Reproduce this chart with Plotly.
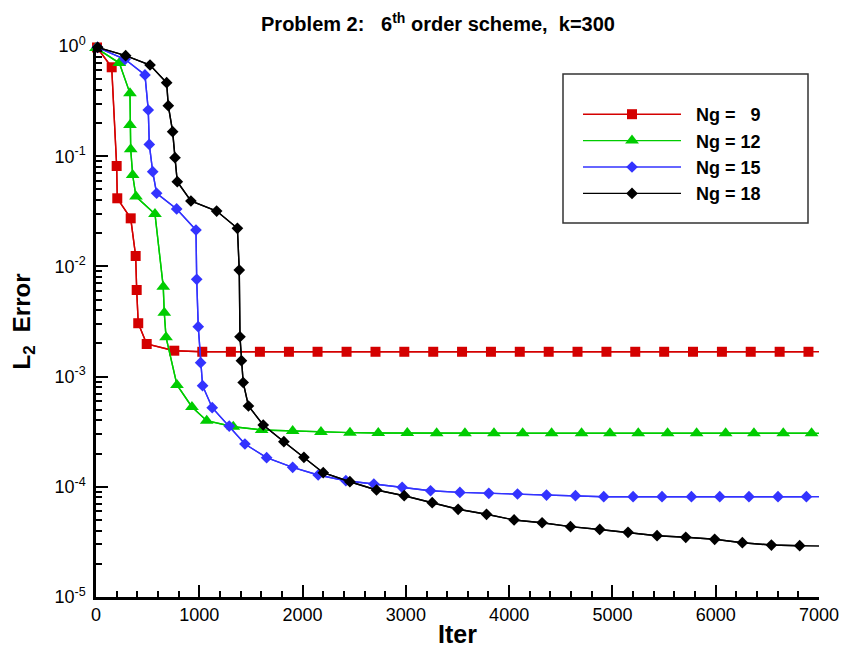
import plotly.graph_objects as go

# ---------------- data ----------------
iter_ng9 = [10, 152, 200, 206, 336, 384, 394, 409, 491, 758, 1029, 1306, 1587, 1868, 2145, 2426,
            2706, 2985, 3265, 3544, 3824, 4103, 4383, 4662, 4942, 5221, 5501, 5780, 6060, 6339, 6619, 6898]
err_ng9 = [0.97, 0.641, 0.0815, 0.0415, 0.0273, 0.01243, 0.00611, 0.00305, 0.001977, 0.001718,
           0.00168, 0.00168, 0.00168, 0.00168, 0.00168, 0.00168, 0.00168, 0.00168, 0.00168, 0.00168,
           0.00168, 0.00168, 0.00168, 0.00168, 0.00168, 0.00168, 0.00168, 0.00168, 0.00168, 0.00168,
           0.00168, 0.00168]
end_ng9 = 0.00168

iter_ng12 = [0, 226, 329, 329, 336, 355, 387, 571, 651, 661, 678, 784, 929, 1072, 1329, 1604, 1904,
             2178, 2459, 2733, 3014, 3298, 3572, 3853, 4131, 4411, 4701, 4976, 5250, 5534, 5815, 6096,
             6370, 6654, 6928]
err_ng12 = [0.96, 0.70, 0.372, 0.192, 0.1155, 0.0675, 0.043, 0.0299, 0.00655, 0.0038, 0.00228,
            0.00084, 0.00053, 0.000398, 0.000351, 0.000328, 0.000321, 0.000315, 0.000310, 0.000308,
            0.000307, 0.000306, 0.000306, 0.000306, 0.000306, 0.000306, 0.000306, 0.000306, 0.000306,
            0.000306, 0.000306, 0.000306, 0.000306, 0.000306, 0.000306]
end_ng12 = 0.000306

iter_ng15 = [13, 281, 474, 506, 516, 549, 587, 781, 968, 975, 990, 1013, 1032, 1125, 1290, 1442, 1652,
             1904, 2151, 2419, 2690, 2964, 3239, 3523, 3803, 4081, 4362, 4642, 4916, 5200, 5480, 5765,
             6039, 6322, 6603, 6878]
err_ng15 = [0.973, 0.757, 0.546, 0.2625, 0.128, 0.0723, 0.0461, 0.0332, 0.0214, 0.00764, 0.00284,
            0.001337, 0.000827, 0.000522, 0.000356, 0.0002445, 0.0001837, 0.0001503, 0.0001279,
            0.0001136, 0.000106, 9.89e-5, 9.21e-5, 8.90e-5, 8.72e-5, 8.60e-5, 8.42e-5, 8.30e-5,
            8.13e-5, 8.13e-5, 8.13e-5, 8.13e-5, 8.13e-5, 8.13e-5, 8.13e-5, 8.13e-5]
end_ng15 = 8.13e-5

iter_ng18 = [16, 287, 523, 684, 700, 742, 765, 787, 919, 1168, 1369, 1387, 1394, 1408, 1425, 1476,
             1619, 1819, 2013, 2200, 2458, 2716, 2984, 3255, 3506, 3781, 4048, 4319, 4594, 4877, 5151,
             5432, 5710, 5990, 6258, 6539, 6813]
err_ng18 = [0.973, 0.817, 0.672, 0.4645, 0.2872, 0.1668, 0.0969, 0.0587, 0.0392, 0.0318, 0.02216,
            0.00927, 0.0023, 0.001394, 0.000884, 0.000541, 0.0003637, 0.0002566, 0.0001852,
            0.0001343, 0.0001112, 9.35e-5, 8.30e-5, 7.17e-5, 6.25e-5, 5.63e-5, 5.00e-5, 4.72e-5,
            4.35e-5, 4.10e-5, 3.86e-5, 3.60e-5, 3.48e-5, 3.34e-5, 3.11e-5, 2.96e-5, 2.92e-5]
end_ng18 = 2.90e-5

iter_end = 7000

series_names = ["Ng =\u00a0\u00a0\u00a09", "Ng = 12", "Ng = 15", "Ng = 18"]
y_tickvals = [1e-5, 1e-4, 1e-3, 1e-2, 1e-1, 1]
y_ticktext = ["10<sup>-5</sup>", "10<sup>-4</sup>", "10<sup>-3</sup>", "10<sup>-2</sup>",
              "10<sup>-1</sup>", "10<sup>0</sup>"]
x_tickvals = [0, 1000, 2000, 3000, 4000, 5000, 6000, 7000]

# ---------------- figure ----------------
styles = [
    dict(color="#D40000", symbol="square", size=10),
    dict(color="#00CC00", symbol="triangle-up", size=12),
    dict(color="#3333FF", symbol="diamond", size=9),
    dict(color="#000000", symbol="diamond", size=9),
]
data = [
    (iter_ng9, err_ng9, end_ng9),
    (iter_ng12, err_ng12, end_ng12),
    (iter_ng15, err_ng15, end_ng15),
    (iter_ng18, err_ng18, end_ng18),
]

fig = go.Figure()
for (xs, ys, yend), st, name in zip(data, styles, series_names):
    # continuous line (ends at the last iteration, without a symbol)
    fig.add_trace(go.Scatter(
        x=list(xs) + [iter_end], y=list(ys) + [yend], mode="lines",
        line=dict(color=st["color"], width=1.4), showlegend=False,
        hoverinfo="skip", cliponaxis=False))
    # symbols
    fig.add_trace(go.Scatter(
        x=xs, y=ys, mode="lines+markers",
        name="<b>\u00a0\u00a0" + name + "</b>",
        line=dict(color=st["color"], width=1.4),
        marker=dict(symbol=st["symbol"], size=st["size"], color=st["color"],
                    line=dict(width=0)),
        cliponaxis=False))

L, R, T, B = 96, 24, 46, 51
W, H = 843, 648
PW, PH = W - L - R, H - T - B

fig.update_layout(
    width=W, height=H,
    margin=dict(l=L, r=R, t=T, b=B),
    paper_bgcolor="white", plot_bgcolor="white",
    font=dict(family="Arial, Liberation Sans, sans-serif", color="black"),
    title=dict(text="<b>Problem 2:\u00a0\u00a0\u00a06<sup>th</sup> order scheme,\u00a0\u00a0k=300</b>",
               x=438 / W, xref="container", xanchor="center",
               y=1 - 24 / H, yref="container", yanchor="middle",
               font=dict(size=20)),
    xaxis=dict(range=[0, 7000], tickvals=x_tickvals, showgrid=False, zeroline=False,
               showline=True, linecolor="black", linewidth=2.5, automargin=False,
               ticks="inside", ticklen=12, tickwidth=2, tickcolor="black",
               minor=dict(ticks="inside", ticklen=6, tickwidth=1.5, dtick=200, tickcolor="black"),
               tickfont=dict(size=18),
               title=dict(text="<b>Iter</b>", font=dict(size=25), standoff=8)),
    yaxis=dict(type="log", range=[-5, 0], tickvals=y_tickvals, ticktext=y_ticktext,
               showgrid=False, zeroline=False, automargin=False,
               showline=True, linecolor="black", linewidth=2.5,
               ticks="inside", ticklen=12, tickwidth=2, tickcolor="black",
               minor=dict(ticks="inside", ticklen=6, tickwidth=1.5, dtick="D1", tickcolor="black"),
               tickfont=dict(size=18), ticklabelstandoff=4,
               title=dict(text="<b>L<sub>2</sub>  Error</b>", font=dict(size=24), standoff=18)),
    legend=dict(x=(578 - L) / PW, y=(H - B - 96) / PH,
                xanchor="left", yanchor="top",
                bgcolor="rgba(0,0,0,0)", borderwidth=0,
                font=dict(size=18), itemwidth=98, tracegroupgap=0),
    showlegend=True,
)

# legend frame
fig.add_shape(type="rect", xref="paper", yref="paper",
              x0=(563 - L) / PW, x1=(808 - L) / PW,
              y0=(H - B - 223) / PH, y1=(H - B - 74) / PH,
              line=dict(color="#333333", width=1.5), fillcolor="white", layer="below")

fig.write_html("out.html")
